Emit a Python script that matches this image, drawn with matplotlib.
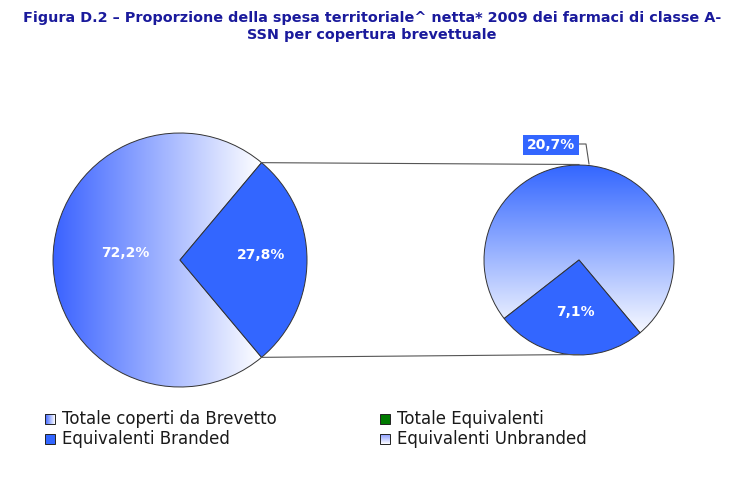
import numpy as np
import matplotlib
matplotlib.use("Agg")
import matplotlib.pyplot as plt
from matplotlib.colors import to_rgb
from matplotlib.patches import Rectangle

# dati
labels_main = ["Totale coperti da Brevetto", "Totale Equivalenti"]
values_main = [72.2, 27.8]
labels_sub = ["Equivalenti Unbranded", "Equivalenti Branded"]
values_sub = [20.7, 7.1]
legend_labels = ["Totale coperti da Brevetto", "Totale Equivalenti",
                 "Equivalenti Branded", "Equivalenti Unbranded"]

BLUE = "#3366FF"
W, H = 748, 487


def Y(y):
    return H - y


def gradient(ax, patch, x0, x1, y0, y1, c0, c1, horizontal=True, n=256):
    t = np.linspace(0, 1, n)
    a, b = np.array(to_rgb(c0)), np.array(to_rgb(c1))
    cols = a[None, :] * (1 - t[:, None]) + b[None, :] * t[:, None]
    img = cols[None, :, :] if horizontal else cols[:, None, :]
    im = ax.imshow(img, extent=(x0, x1, y0, y1), origin="upper" if not horizontal else "lower",
                   aspect="auto", zorder=0.5, interpolation="bilinear")
    im.set_clip_path(patch)
    return im


fig = plt.figure(figsize=(W / 100, H / 100), dpi=100)
ax = fig.add_axes([0, 0, 1, 1])

# torta principale
c1, r1 = (180, Y(260)), 127
start1 = values_main[1] * 3.6 / 2
w1, _ = ax.pie(values_main, startangle=start1, center=c1, radius=r1,
               colors=["none", BLUE], normalize=True,
               wedgeprops=dict(edgecolor="#333333", linewidth=0.7))
gradient(ax, w1[0], 53, 262, Y(400), Y(120), "#3a62ff", "#ffffff", horizontal=True)
ax.add_patch(Rectangle((262, Y(400)), 60, 280, facecolor="white", zorder=0.4))

# torta secondaria
c2, r2 = (579, Y(260)), 95
ang_sub = values_sub[1] / sum(values_sub) * 360
start2 = 264 + ang_sub / 2
w2, _ = ax.pie(values_sub, startangle=start2, center=c2, radius=r2,
               colors=["none", BLUE], normalize=True,
               wedgeprops=dict(edgecolor="#333333", linewidth=0.7))
gradient(ax, w2[0], 480, 680, Y(340), Y(165), "#3366ff", "#ffffff", horizontal=False)
ax.add_patch(Rectangle((480, Y(360)), 200, 20, facecolor="white", zorder=0.4))

# linee di collegamento
a = np.deg2rad(start1)
ax.plot([c1[0] + r1 * np.cos(a), c2[0]], [c1[1] + r1 * np.sin(a), c2[1] + r2 + 0.5],
        color="#555555", lw=0.8, zorder=2)
ax.plot([c1[0] + r1 * np.cos(a), c2[0]], [c1[1] - r1 * np.sin(a), c2[1] - r2 + 0.5],
        color="#555555", lw=0.8, zorder=2)

# etichette
lab = dict(color="white", fontsize=10, fontweight="bold", ha="center", va="center", zorder=5)
ax.text(125, Y(253), "72,2%", **lab)
ax.text(261, Y(255), "27,8%", **lab)
ax.text(575, Y(312), "7,1%", **lab)
ax.text(551, Y(145), "20,7%", bbox=dict(boxstyle="square,pad=0.25", facecolor=BLUE,
                                        edgecolor="none"), **lab)
ax.plot([579, 586, 589], [Y(144), Y(144), Y(164)], color="#555555", lw=0.8, zorder=2)

# titolo
tit = dict(color="#1a1a9c", fontsize=10.4, fontweight="bold", ha="center", va="center")
ax.text(372, Y(18), "Figura D.2 \u2013 Proporzione della spesa territoriale^ netta* 2009 dei farmaci di classe A-", **tit)
ax.text(372, Y(35), "SSN per copertura brevettuale", **tit)

# legenda
pos = [(45, 419), (380, 419), (45, 439), (380, 439)]
for (lx, ly), txt in zip(pos, legend_labels):
    sq = Rectangle((lx, Y(ly) - 5), 10, 10, facecolor="none", edgecolor="#222222", lw=0.7, zorder=3)
    ax.add_patch(sq)
    if txt == "Totale coperti da Brevetto":
        gradient(ax, sq, lx, lx + 10, Y(ly) - 5, Y(ly) + 5, "#3a62ff", "#ffffff")
    elif txt == "Totale Equivalenti":
        sq.set_facecolor("#007a00")
    elif txt == "Equivalenti Branded":
        sq.set_facecolor(BLUE)
    else:
        gradient(ax, sq, lx, lx + 10, Y(ly) - 5, Y(ly) + 5, "#8899ff", "#ffffff", horizontal=False)
    ax.text(lx + 17, Y(ly) - 0.5, txt, fontsize=12, color="#1a1a1a",
            ha="left", va="center")

ax.set_xlim(0, W)
ax.set_ylim(0, H)
ax.set_aspect("auto")
ax.axis("off")
fig.savefig("out.png", dpi=100, facecolor="white")
